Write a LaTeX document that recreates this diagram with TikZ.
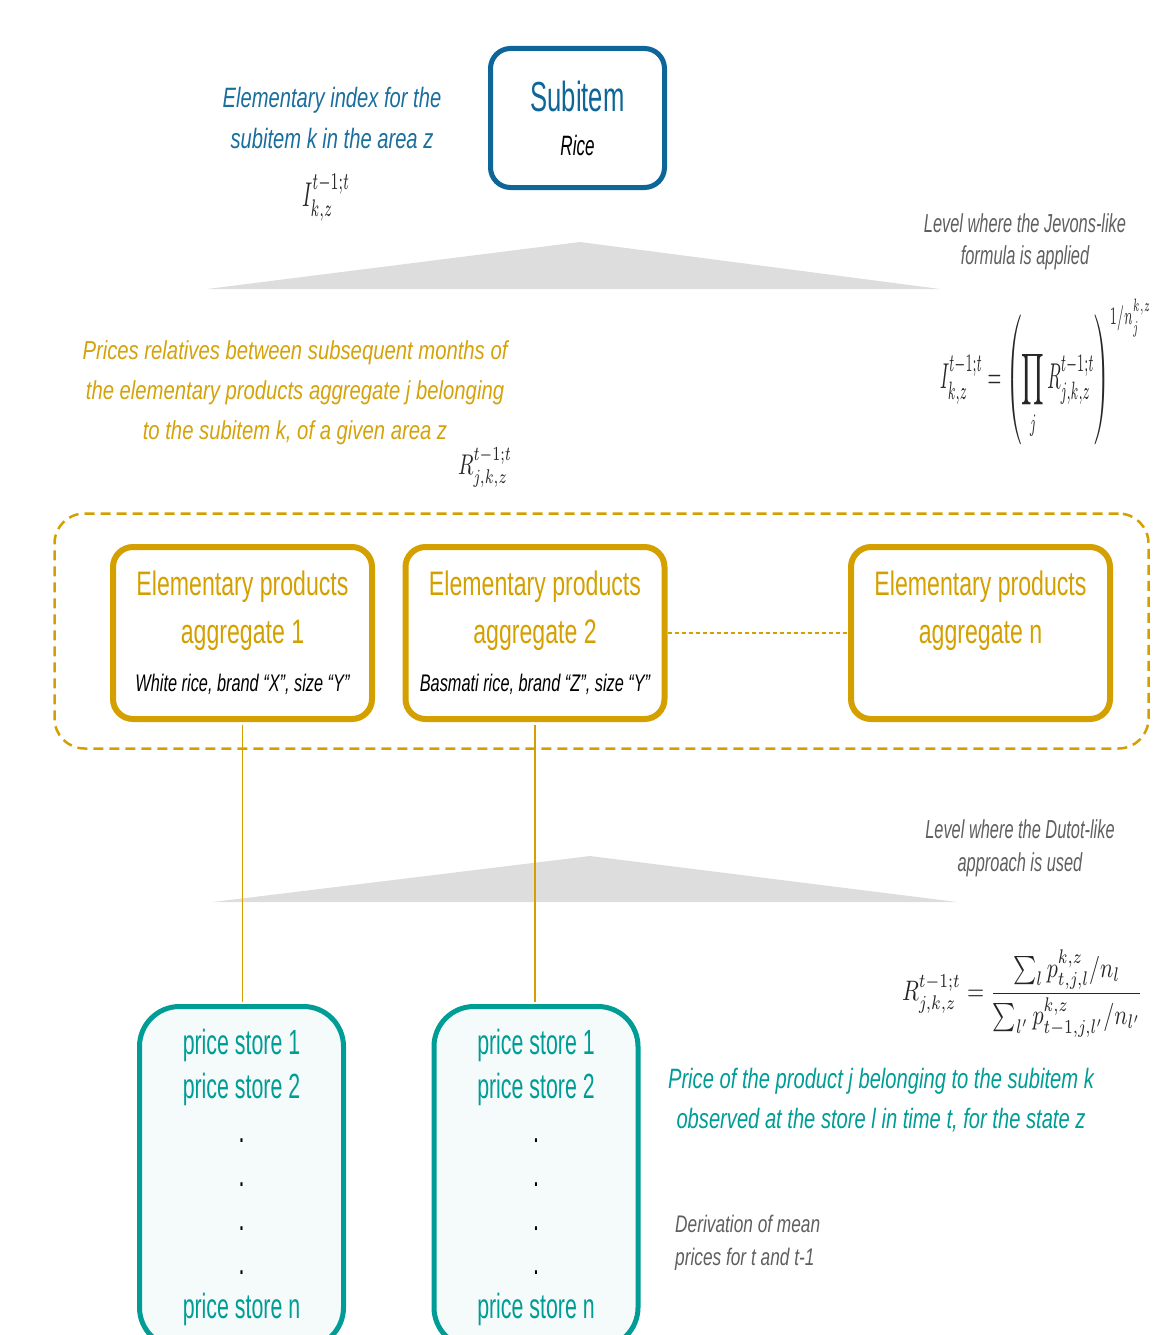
\documentclass[tikz,border=0pt]{standalone}
\usepackage[no-math]{fontspec}
\usepackage{graphicx}
\setmainfont{Liberation Sans}[FakeStretch=0.68]
\newfontfamily\fA{Liberation Sans}[FakeStretch=0.72]
\newfontfamily\fB{Liberation Sans}[FakeStretch=0.78]
\newfontfamily\fC{Liberation Sans}[FakeStretch=0.63]
\newfontfamily\fD{Liberation Sans}[FakeStretch=0.61]
\newcommand\fsz[2]{\fontsize{#1}{#2}\selectfont}
\definecolor{cblue}{RGB}{14,102,152}
\definecolor{clabblue}{RGB}{26,110,158}
\definecolor{cgold}{RGB}{212,160,0}
\definecolor{clabgold}{RGB}{212,162,10}
\definecolor{cteal}{RGB}{0,156,150}
\definecolor{cfill}{RGB}{245,251,251}
\definecolor{cgray}{RGB}{95,95,95}
\definecolor{ctri}{RGB}{221,221,221}
\tikzset{
  subbox/.style={draw=cblue, line width=5pt, rounded corners=20pt, minimum width=174pt, minimum height=139pt, inner sep=0pt, align=center, fill=white, text=cblue, font=\fD\fsz{42}{44}},
  aggbox/.style={draw=cgold, line width=6pt, rounded corners=20pt, minimum width=259pt, minimum height=172pt, inner sep=0pt, align=center, text=cgold, font=\fsz{34}{48}},
  storebox/.style={draw=cteal, line width=5pt, rounded corners=40pt, fill=cfill, minimum width=204pt, minimum height=341pt, inner sep=0pt, align=center, text=cteal, font=\fD\fsz{35}{44}},
  grpbox/.style={draw=cgold, line width=2.5pt, dash pattern=on 10pt off 6pt, rounded corners=30pt, minimum width=1094pt, minimum height=235pt, inner sep=0pt},
  link/.style={draw=cgold, line width=1.2pt},
  dlink/.style={draw=cgold, line width=1.3pt, dash pattern=on 4pt off 3pt},
  tri/.style={fill=ctri, draw=none},
  mathlab/.style={inner sep=0pt, text=black!85},
  graylab/.style={align=center, text=cgray, inner sep=0pt},
}
\begin{document}
\begin{tikzpicture}[x=1pt,y=-1pt]
\useasboundingbox (0,0) rectangle (1165,1335);
% level triangles
\fill[tri] (207,289) -- (580,242) -- (940,289) -- cycle;
\fill[tri] (213,902) -- (590,856) -- (957,902) -- cycle;

% top
\node[subbox] (sub) at (577.5,118) {Subitem\\{\itshape\color{black}\fsz{28}{44}Rice}};
\node[align=center, text=clabblue, inner sep=0pt, font=\fA\itshape\fsz{28}{41}] (sublab) at (332,118) {Elementary index for the\\subitem k in the area z};
\node[mathlab] (Ilab) at (326,198) {\resizebox*{48pt}{47pt}{$I^{t-1;t}_{k,z}$}};

\node[graylab, font=\fC\itshape\fsz{26}{32}] (jevlab) at (1025,242) {Level where the Jevons-like\\formula is applied};
\node[mathlab] (jevf) at (1046,372) {\resizebox*{212pt}{145pt}{$\displaystyle I^{t-1;t}_{k,z}=\left(\prod_j R^{t-1;t}_{j,k,z}\right)^{1/n_j^{k,z}}$}};

\node[align=center, text=clabgold, inner sep=0pt, font=\fB\itshape\fsz{26}{40}] (rellab) at (295,393) {Prices relatives between subsequent months of\\the elementary products aggregate j belonging\\to the subitem k, of a given area z};
\node[mathlab] (Rlab) at (485,467.5) {\resizebox*{54pt}{39pt}{$R^{t-1;t}_{j,k,z}$}};

% aggregates
\node[grpbox] (grp) at (601.5,631) {};
\node[aggbox] (agg1) at (242.5,633) {Elementary products\\aggregate 1\\{\color{black}\itshape\fsz{24}{48}White rice, brand “X”, size “Y”}};
\node[aggbox] (agg2) at (535,633) {Elementary products\\aggregate 2\\{\color{black}\itshape\fsz{24}{48}Basmati rice, brand “Z”, size “Y”}};
\node[aggbox] (aggn) at (980.5,633) {Elementary products\\aggregate n\\{\itshape\fsz{24}{48}\phantom{White rice, brand}}};
\draw[dlink] (agg2.east) -- (aggn.west);

% lower level
\node[graylab, font=\fC\itshape\fsz{26}{33}] (dutlab) at (1020,848.5) {Level where the Dutot-like\\approach is used};
\node[mathlab] (dutf) at (1022.5,993.5) {\resizebox*{241pt}{87pt}{$\displaystyle R^{t-1;t}_{j,k,z}=\frac{\sum_l p^{k,z}_{t,j,l}/n_l}{\sum_{l'} p^{k,z}_{t-1,j,l'}/n_{l'}}$}};

% stores
\node[storebox] (store1) at (241.5,1177) {price store 1\\price store 2\\{\color{black}.}\\{\color{black}.}\\{\color{black}.}\\{\color{black}.}\\price store n};
\node[storebox] (store2) at (536,1177) {price store 1\\price store 2\\{\color{black}.}\\{\color{black}.}\\{\color{black}.}\\{\color{black}.}\\price store n};
\draw[link, shorten <=3pt, shorten >=2.5pt] (agg1.south) -- (agg1.south |- store1.north);
\draw[link, shorten <=3pt, shorten >=2.5pt] (agg2.south) -- (agg2.south |- store2.north);

\node[align=center, text=cteal, inner sep=0pt, font=\fA\itshape\fsz{28}{40}] (pricelab) at (881,1100) {Price of the product j belonging to the subitem k\\observed at the store l in time t, for the state z};
\node[align=left, anchor=west, text=cgray, inner sep=0pt, font=\fA\itshape\fsz{24}{33}] (derlab) at (675,1243) {Derivation of mean\\prices for t and t-1};
\end{tikzpicture}
\end{document}
